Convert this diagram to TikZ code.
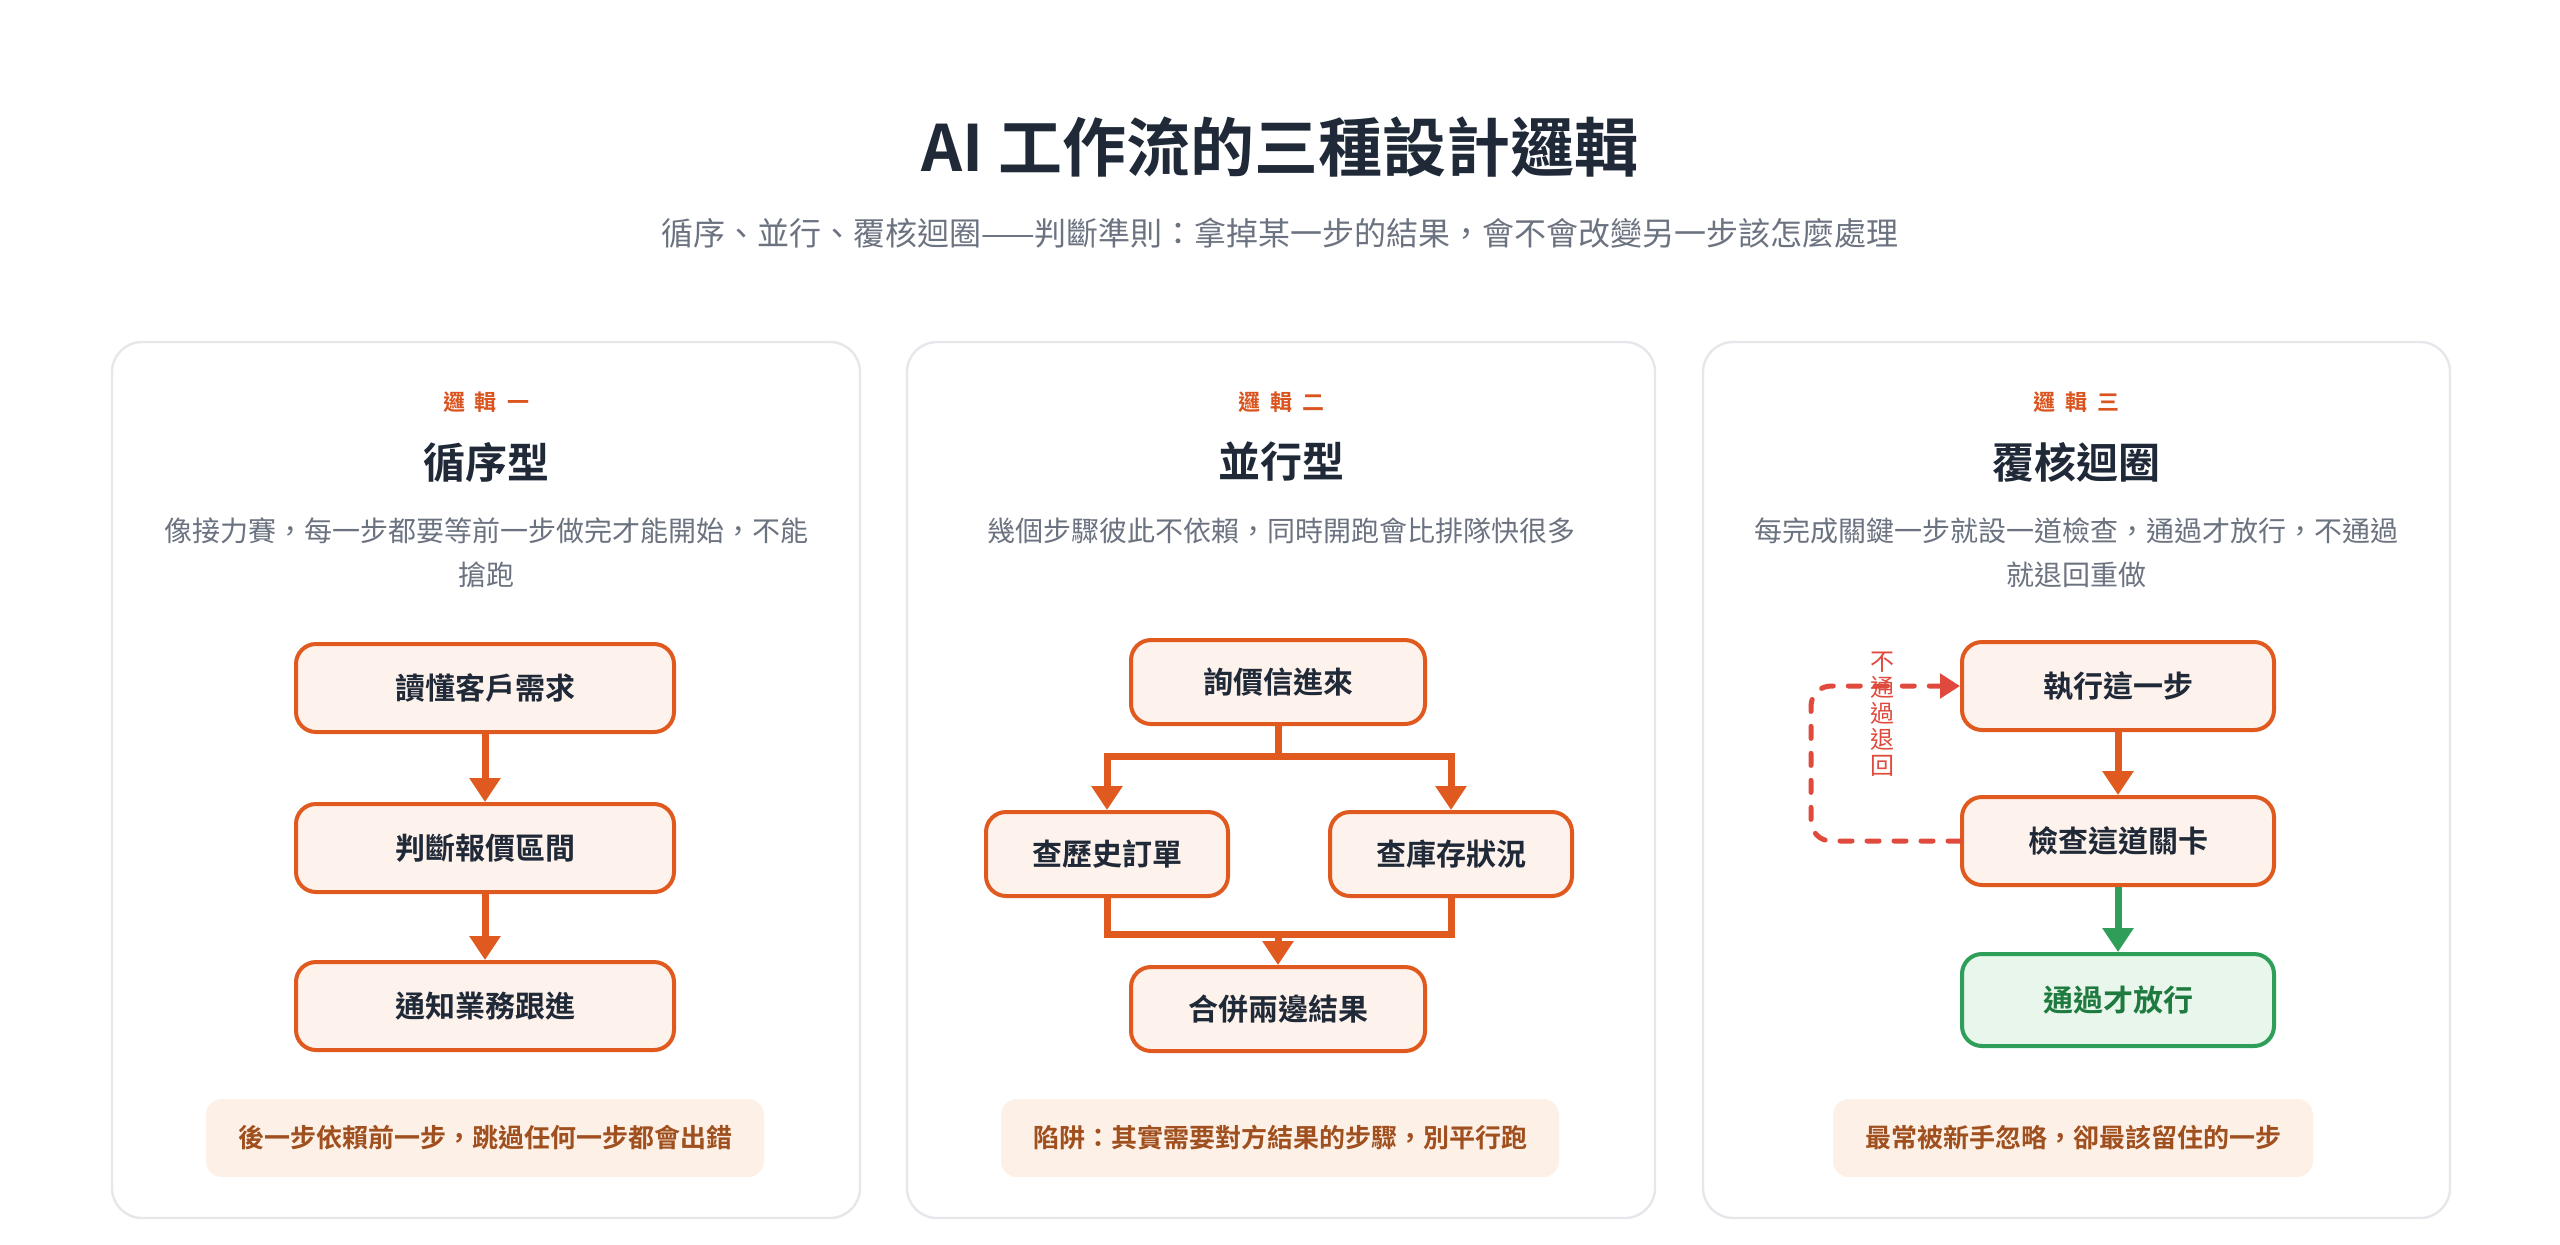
\documentclass[tikz,border=0pt]{standalone}
\usepackage{fontspec}
\setmainfont{Noto Sans CJK TC}[BoldFont={Noto Sans CJK TC Bold}]
\usepackage{tikz}
\usetikzlibrary{arrows.meta,positioning}
\definecolor{inkNavy}{HTML}{1F2937}
\definecolor{inkGray}{HTML}{6B7280}
\definecolor{flowOrange}{HTML}{E05A1F}
\definecolor{stepFill}{HTML}{FEF2EC}
\definecolor{labelOrange}{HTML}{D9541E}
\definecolor{noteFill}{HTML}{FDF0E7}
\definecolor{noteBrown}{HTML}{A0501E}
\definecolor{retryRed}{HTML}{E04A3C}
\definecolor{passGreen}{HTML}{2E9E58}
\definecolor{passFill}{HTML}{E8F6EC}
\definecolor{passText}{HTML}{1E7A3E}
\definecolor{cardLine}{HTML}{E5E7EB}
\begin{document}
\begin{tikzpicture}[x=0.5pt,y=-0.5pt,card/.style={draw=cardLine,line width=1.2pt,fill=white,rounded corners=15pt},tag/.style={text=labelOrange,font=\bfseries\fontsize{11}{13}\selectfont},heading/.style={text=inkNavy,font=\bfseries\fontsize{21}{25}\selectfont},blurb/.style={text=inkGray,align=center,font=\fontsize{14}{22}\selectfont},stepbox/.style={draw=flowOrange,fill=stepFill,line width=2pt,rounded corners=10pt,minimum height=44pt,text=inkNavy,font=\bfseries\fontsize{15}{18}\selectfont},passbox/.style={stepbox,draw=passGreen,fill=passFill,text=passText},note/.style={fill=noteFill,rounded corners=8pt,minimum height=39pt,inner xsep=16pt,text=noteBrown,font=\bfseries\fontsize{13}{16}\selectfont},flowline/.style={line width=3.5pt,draw=flowOrange},flow/.style={flowline,-{Triangle[width=15pt,length=12pt]}},passflow/.style={flow,draw=passGreen},retry/.style={-{Triangle[width=12pt,length=10pt]},line width=2.5pt,draw=retryRed,dash pattern=on 6pt off 7.5pt,line cap=round,rounded corners=10pt}]
\useasboundingbox (0,0) rectangle (2560,1244);
\node[font=\bfseries\fontsize{32}{38}\selectfont,text=inkNavy] (title) at (1280,147) {AI 工作流的三種設計邏輯};
\node[font=\fontsize{16}{20}\selectfont,text=inkGray] (subtitle) at (1280,233) {循序、並行、覆核迴圈——判斷準則：拿掉某一步的結果，會不會改變另一步該怎麼處理};
\draw[card] (112,342) rectangle (860,1218);
\draw[card] (907,342) rectangle (1655,1218);
\draw[card] (1703,342) rectangle (2450,1218);
\node[tag] (t1) at (486,402) {邏\hspace{5pt}輯\hspace{5pt}一};
\node[heading] (h1) at (486,462) {循序型};
\node[blurb] (d1) at (486,553) {像接力賽，每一步都要等前一步做完才能開始，不能\\搶跑};
\node[stepbox,minimum width=189pt] (a1) at (485,688) {讀懂客戶需求};
\node[stepbox,minimum width=189pt] (a2) at (485,848) {判斷報價區間};
\node[stepbox,minimum width=189pt] (a3) at (485,1006) {通知業務跟進};
\draw[flow] (a1) -- (a2);
\draw[flow] (a2) -- (a3);
\node[note] (n1) at (485,1138) {後一步依賴前一步，跳過任何一步都會出錯};
\node[tag] (t2) at (1281,402) {邏\hspace{5pt}輯\hspace{5pt}二};
\node[heading] (h2) at (1281,462) {並行型};
\node[blurb] (d2) at (1281,531) {幾個步驟彼此不依賴，同時開跑會比排隊快很多};
\node[stepbox,minimum width=147pt,minimum height=42pt] (b1) at (1278,682) {詢價信進來};
\node[stepbox,minimum width=121pt,minimum height=42pt] (b2) at (1107,854) {查歷史訂單};
\node[stepbox,minimum width=121pt,minimum height=42pt] (b3) at (1451,854) {查庫存狀況};
\node[stepbox,minimum width=147pt,minimum height=42pt] (b4) at (1278,1009) {合併兩邊結果};
\coordinate (split) at (1278,756);
\coordinate (join) at (1278,934);
\draw[flowline] (b1.south) -- (split);
\draw[flow] (split) -| (b2.north);
\draw[flow] (split) -| (b3.north);
\draw[flowline] (b2.south) |- (join) -| (b3.south);
\draw[flow] (join) -- (b4.north);
\node[note] (n2) at (1280,1138) {陷阱：其實需要對方結果的步驟，別平行跑};
\node[tag] (t3) at (2076,402) {邏\hspace{5pt}輯\hspace{5pt}三};
\node[heading] (h3) at (2076,462) {覆核迴圈};
\node[blurb] (d3) at (2076,553) {每完成關鍵一步就設一道檢查，通過才放行，不通過\\就退回重做};
\node[stepbox,minimum width=156pt] (c1) at (2118,686) {執行這一步};
\node[stepbox,minimum width=156pt] (c2) at (2118,841) {檢查這道關卡};
\node[passbox,minimum width=156pt,minimum height=46pt] (c3) at (2118,1000) {通過才放行};
\draw[flow] (c1) -- (c2);
\draw[passflow] (c2) -- (c3);
\coordinate (back) at (1811,841);
\draw[retry] (c2.west) -- (back) |- (c1.west);
\node[text=retryRed,font=\fontsize{12}{13}\selectfont,align=center] (nopass) at (1882,714) {不\\通\\過\\退\\回};
\node[note] (n3) at (2073,1138) {最常被新手忽略，卻最該留住的一步};
\end{tikzpicture}
\end{document}
